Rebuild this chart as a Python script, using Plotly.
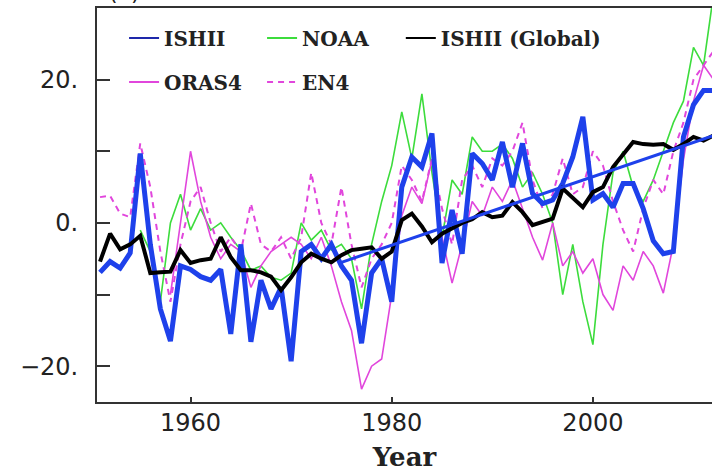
import plotly.graph_objects as go

years = list(range(1951, 2013))

ishii = [-6.9, -5.4, -6.3, -4.2, 9.7, -3.0, -12.0, -16.5, -6.0, -6.5,
         -7.5, -8.0, -6.5, -15.5, -3.0, -16.6, -8.0, -12.0, -9.0, -19.3,
         -4.0, -3.0, -5.0, -3.0, -6.0, -8.0, -16.8, -7.0, -5.0, -11.0,
         5.0, 9.2, 7.8, 12.5, -5.6, 1.8, -4.3, 9.7, 8.3, 6.0,
         11.3, 5.0, 11.1, 4.1, 2.7, 3.2, 5.5, 9.2, 14.8, 3.2,
         4.1, 2.2, 5.5, 5.5, 2.0, -2.5, -4.3, -4.0, 12.0, 16.5,
         18.5, 18.5]

ishii_global = [-5.4, -1.5, -3.7, -3.0, -1.8, -7.0, -6.9, -6.8, -3.8, -5.6,
                -5.2, -5.0, -2.0, -4.8, -6.6, -6.6, -6.9, -7.5, -9.4, -7.6,
                -5.5, -4.3, -5.0, -5.5, -4.5, -3.8, -3.6, -3.4, -5.0, -4.0,
                0.4, 1.3, -0.5, -2.7, -1.5, -0.8, 0.0, 0.5, 1.5, 0.8,
                1.0, 2.9, 1.5, -0.3, 0.2, 0.6, 4.8, 3.5, 2.2, 4.3,
                5.0, 7.8, 9.5, 11.3, 11.0, 10.9, 11.0, 10.2, 11.0, 12.0,
                11.5, 12.2]

noaa_years = list(range(1955, 2013))
noaa = [-1.0, -4.0, -11.0, 0.0, 4.0, -1.0, 2.0, -1.0, 0.0, -2.0,
        -3.8, -6.6, -6.0, -7.6, -8.0, -7.0, 0.0, -2.4, -1.0, -3.8,
        -3.0, -5.0, -12.0, -3.0, 3.0, 8.0, 15.5, 9.0, 18.0, 7.0,
        -2.0, 6.0, 4.0, 12.0, 10.0, 10.0, 11.0, 9.0, 5.0, 7.0,
        4.0, 0.0, -10.0, -3.0, -11.0, -17.0, -3.0, 7.0, 10.0, 5.0,
        3.0, 6.0, 10.0, 14.0, 17.0, 24.5, 22.0, 32.0]

oras4_years = list(range(1958, 2013))
oras4 = [-10.0, 0.0, 10.0, 3.0, -2.0, -5.0, -3.0, -4.0, -9.0, -6.0,
         -4.0, -3.0, -2.0, -3.0, -5.0, -2.0, -6.0, -11.0, -15.0, -23.2,
         -20.0, -19.0, -10.0, 1.0, 5.0, 2.7, 8.8, -2.0, -8.4, -3.0,
         3.0, 1.0, 5.0, 3.0, 6.0, 2.0, -2.0, -5.2, 0.0, -6.0,
         -4.0, -7.0, -5.0, -10.0, -12.2, -6.0, -8.0, -4.0, -6.0, -9.8,
         -3.0, 8.8, 17.0, 22.0, 20.0]

en4 = [3.6, 3.8, 1.3, 0.8, 11.1, 5.0, -4.0, -11.0, -3.0, 3.0,
       5.0, 0.0, -4.0, -2.0, -4.0, 2.7, -3.0, -4.0, -2.0, -5.0,
       -2.0, 7.0, 0.0, -3.0, 5.0, -3.0, -9.0, -5.0, -3.0, 0.0,
       8.0, 6.0, 3.0, 9.0, 2.0, -3.0, 6.0, 8.0, 5.0, 9.0,
       8.0, 10.0, 14.0, 6.0, 2.0, 4.0, 9.0, 4.0, 5.0, 10.0,
       8.0, 3.0, -1.0, -4.0, 2.0, 6.0, 4.0, 10.0, 14.0, 20.0,
       22.0, 24.0]

trend_years = [1975, 2012]
trend_vals = [-5.5, 12.2]

BLUE = "rgb(30,65,235)"
GREEN = "rgb(60,220,60)"
MAGENTA = "rgb(225,70,220)"
BLACK = "rgb(0,0,0)"

fig = go.Figure()
fig.add_trace(go.Scatter(x=noaa_years, y=noaa, mode="lines",
                         line=dict(color=GREEN, width=1.6), showlegend=False))
fig.add_trace(go.Scatter(x=oras4_years, y=oras4, mode="lines",
                         line=dict(color=MAGENTA, width=1.6), showlegend=False))
fig.add_trace(go.Scatter(x=years, y=en4, mode="lines",
                         line=dict(color=MAGENTA, width=2, dash="6px,5px"), showlegend=False))
fig.add_trace(go.Scatter(x=years, y=ishii, mode="lines",
                         line=dict(color=BLUE, width=5), showlegend=False))
fig.add_trace(go.Scatter(x=years, y=ishii_global, mode="lines",
                         line=dict(color=BLACK, width=4), showlegend=False))
fig.add_trace(go.Scatter(x=trend_years, y=trend_vals, mode="lines",
                         line=dict(color=BLUE, width=3), showlegend=False))

# legend entries (thin lines, as in the reference legend)
leg_font = dict(family="DejaVu Serif", size=20, color="#222")
fig.add_trace(go.Scatter(x=[None], y=[None], mode="lines", name="<b>ISHII</b>",
                         line=dict(color="rgb(30,40,170)", width=2), legend="legend"))
fig.add_trace(go.Scatter(x=[None], y=[None], mode="lines", name="<b>NOAA</b>",
                         line=dict(color=GREEN, width=2), legend="legend"))
fig.add_trace(go.Scatter(x=[None], y=[None], mode="lines", name="<b>ISHII (Global)</b>",
                         line=dict(color=BLACK, width=2), legend="legend3"))
fig.add_trace(go.Scatter(x=[None], y=[None], mode="lines", name="<b>ORAS4</b>",
                         line=dict(color=MAGENTA, width=2), legend="legend2"))
fig.add_trace(go.Scatter(x=[None], y=[None], mode="lines", name="<b>EN4</b>",
                         line=dict(color=MAGENTA, width=2, dash="6px,5px"), legend="legend2"))

common_leg = dict(orientation="h", xanchor="left", yanchor="middle",
                  bgcolor="rgba(0,0,0,0)", font=leg_font, itemwidth=30,
                  traceorder="normal")

fig.update_layout(
    width=712, height=472,
    margin=dict(l=97, r=0, t=8, b=70),
    paper_bgcolor="white", plot_bgcolor="white",
    font=dict(family="DejaVu Sans", color="#222"),
    legend=dict(x=0.044, y=0.924, entrywidth=93, **common_leg),
    legend2=dict(x=0.044, y=0.812, entrywidth=93, **common_leg),
    legend3=dict(x=0.494, y=0.924, **common_leg),
    xaxis=dict(range=[1950.7, 2011.84], showgrid=False, zeroline=False,
               showline=True, linecolor="#333", linewidth=2, mirror=True,
               ticks="inside", ticklen=5, tickwidth=1.5, tickcolor="#333",
               tickvals=[1960, 1980, 2000], ticktext=["1960", "1980", "2000"],
               tickfont=dict(family="DejaVu Sans", size=24, color="#222"),
               ticklabelstandoff=-2,
               title=dict(text="<b>Year</b>", standoff=12,
                          font=dict(family="DejaVu Serif", size=26, color="#222"))),
    yaxis=dict(range=[-25, 30], showgrid=False, zeroline=False,
               showline=True, linecolor="#333", linewidth=2,
               ticks="inside", ticklen=13, tickwidth=1.5, tickcolor="#333",
               tickvals=[-20, -10, 0, 10, 20],
               ticktext=["\u221220.", "", "0.", "", "20."],
               tickfont=dict(family="DejaVu Sans", size=24, color="#222"),
               ticklabelstandoff=12),
    yaxis2=dict(range=[-25, 30], overlaying="y", side="right", anchor="free", position=1,
                showgrid=False, zeroline=False, showline=False,
                ticks="inside", ticklen=5, tickwidth=1.5, tickcolor="#333",
                tickvals=[-20, -10, 0, 10, 20], showticklabels=False),
)

fig.add_annotation(text="(a)", xref="paper", yref="paper", x=0.016, y=1.0,
                   xanchor="left", yanchor="bottom", yshift=1, showarrow=False,
                   font=dict(family="DejaVu Sans", size=22, color="#222"))

fig.write_html("out.html")
